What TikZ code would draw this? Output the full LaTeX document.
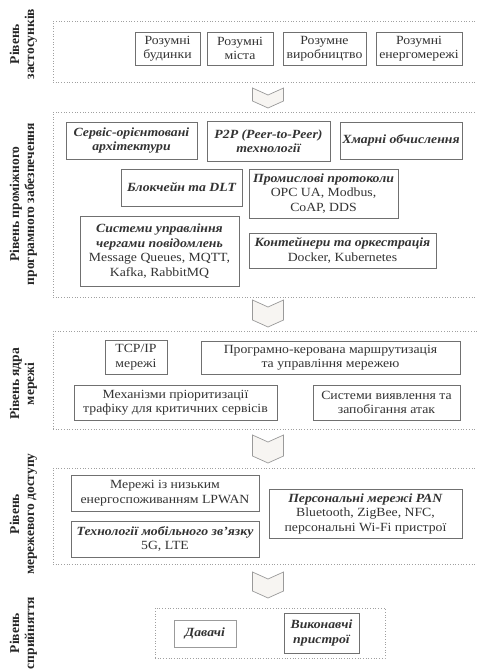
\documentclass[tikz,border=0pt]{standalone}
\usepackage{fontspec}
\setmainfont[FakeStretch=1.1]{Liberation Serif}
\newfontfamily\lblfont{Liberation Serif}
\definecolor{boxgray}{HTML}{707070}
\definecolor{framegray}{HTML}{A0A0A0}
\definecolor{txtgray}{HTML}{333333}
\definecolor{arrowgray}{HTML}{9A9A9A}
\definecolor{arrowfill}{HTML}{F7F5F2}
\newcommand\mychev[3]{\draw[chev] (#1-15.5,#2) -- (#1,#2+7) -- (#1+15.5,#2) -- (#1+15.5,#3-7) -- (#1,#3) -- (#1-15.5,#3-7) -- cycle;}
\begin{document}
\begin{tikzpicture}[x=1pt,y=-1pt,
  box/.style={draw=boxgray, line width=0.8pt, fill=white, align=center, inner sep=1pt,
    font=\fontsize{12.5}{14.5}\selectfont, text=txtgray},
  bi/.style={font=\fontsize{12.5}{14.5}\selectfont\bfseries\itshape},
  layerframe/.style={draw=framegray, dotted, line width=0.7pt, inner sep=0pt},
  lbl/.style={rotate=90, align=center, font=\lblfont\fontsize{13.5}{15}\selectfont\bfseries, text=black!85},
  chev/.style={draw=arrowgray, fill=arrowfill, line width=0.7pt}]
\useasboundingbox (0,0) rectangle (476,671);

% layer frames
\node[layerframe, minimum width=437pt, minimum height=61pt] (F1) at (271.5,51.5) {};
\node[layerframe, minimum width=437pt, minimum height=185pt] (F2) at (271.5,204.5) {};
\node[layerframe, minimum width=437pt, minimum height=98pt] (F3) at (271.5,380) {};
\node[layerframe, minimum width=437pt, minimum height=96pt] (F4) at (271.5,516) {};
\node[layerframe, minimum width=230pt, minimum height=50pt] (F5) at (270,633) {};

% layer labels
\node[lbl] (L1) at (23.5,44) {Рівень\\застосунків};
\node[lbl] (L2) at (23.5,204) {Рівень проміжного\\програмного забезпечення};
\node[lbl] (L3) at (23.5,384) {Рівень ядра\\мережі};
\node[lbl] (L4) at (23.5,514) {Рівень\\мережевого доступу};
\node[lbl] (L5) at (23.5,633) {Рівень\\сприйняття};

% application layer
\node[box, minimum width=65pt, minimum height=33pt] (b1) at (167.5,48.5) {Розумні\\будинки};
\node[box, minimum width=66pt, minimum height=33pt] (b2) at (240,48.5) {Розумні\\міста};
\node[box, minimum width=83pt, minimum height=33pt] (b3) at (324.5,48.5) {Розумне\\виробництво};
\node[box, minimum width=86pt, minimum height=33pt] (b4) at (419,48.5) {Розумні\\енергомережі};

% middleware layer
\node[box, bi, minimum width=131pt, minimum height=37pt] (c1) at (131.5,140.5) {Сервіс-орієнтовані\\архітектури};
\node[box, bi, minimum width=123pt, minimum height=40pt] (c2) at (268.5,141) {P2P (Peer-to-Peer)\\технології};
\node[box, bi, minimum width=122pt, minimum height=37pt] (c3) at (401,140.5) {Хмарні обчислення};
\node[box, bi, minimum width=121pt, minimum height=37pt] (c4) at (181.5,187.5) {Блокчейн та DLT};
\node[box, minimum width=149pt, minimum height=49pt] (c5) at (323.5,193.5) {\textbf{\textit{Промислові протоколи}}\\OPC UA, Modbus,\\CoAP, DDS};
\node[box, minimum width=159pt, minimum height=70pt] (c6) at (159.5,251) {\textbf{\textit{Системи управління}}\\\textbf{\textit{чергами повідомлень}}\\Message Queues, MQTT,\\Kafka, RabbitMQ};
\node[box, minimum width=187pt, minimum height=35pt] (c7) at (342.5,250.5) {\textbf{\textit{Контейнери та оркестрація}}\\Docker, Kubernetes};

% network core layer
\node[box, minimum width=62pt, minimum height=34pt] (d1) at (136,357) {TCP/IP\\мережі};
\node[box, minimum width=259pt, minimum height=33pt] (d2) at (330.5,357.5) {Програмно-керована маршрутизація\\та управління мережею};
\node[box, minimum width=203pt, minimum height=35pt] (d3) at (175.5,402.5) {Механізми пріоритизації\\трафіку для критичних сервісів};
\node[box, minimum width=147pt, minimum height=35pt] (d4) at (386.5,402.5) {Системи виявлення та\\запобігання атак};

% network access layer
\node[box, minimum width=188pt, minimum height=36pt] (e1) at (165,493) {Мережі із низьким\\енергоспоживанням LPWAN};
\node[box, minimum width=193pt, minimum height=49pt] (e2) at (365.5,513.5) {\textbf{\textit{Персональні мережі PAN}}\\Bluetooth, ZigBee, NFC,\\персональні Wi-Fi пристрої};
\node[box, minimum width=188pt, minimum height=36pt] (e3) at (165,539) {\textbf{\textit{Технології мобільного зв'язку}}\\5G, LTE};

% perception layer
\node[box, bi, draw=boxgray!70, minimum width=62pt, minimum height=27pt] (f1) at (205,633.5) {Давачі};
\node[box, bi, minimum width=75pt, minimum height=40pt] (f2) at (321.5,633) {Виконавчі\\пристрої};

% chevrons between layers
\mychev{268}{88}{108}
\mychev{268}{300}{327}
\mychev{268}{435}{463}
\mychev{268}{572}{598}
\end{tikzpicture}
\end{document}
